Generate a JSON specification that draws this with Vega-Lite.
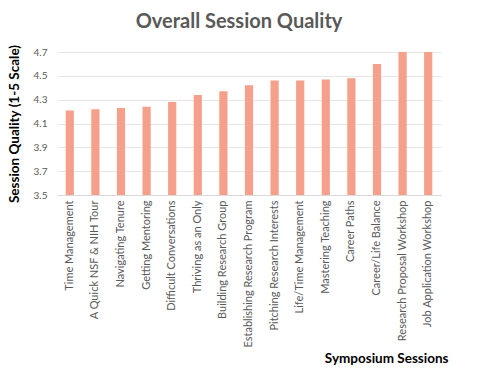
{
  "$schema": "https://vega.github.io/schema/vega-lite/v6.json",
  "width": 384,
  "height": 143,
  "autosize": {"type": "none"},
  "padding": {"left": 57, "top": 52, "right": 39, "bottom": 182},
  "background": "white",
  "title": {
    "text": "Overall Session Quality",
    "font": "Lato",
    "fontSize": 20,
    "fontWeight": "bold",
    "color": "#595959",
    "anchor": "middle",
    "dx": -10,
    "offset": 12
  },
  "data": {
    "values": [
      {"session": "Time Management", "score": 4.21},
      {"session": "A Quick NSF & NIH Tour", "score": 4.22},
      {"session": "Navigating Tenure", "score": 4.23},
      {"session": "Getting Mentoring", "score": 4.24},
      {"session": "Difficult Conversations", "score": 4.28},
      {"session": "Thriving as an Only", "score": 4.34},
      {"session": "Building Research Group", "score": 4.37},
      {"session": "Establishing Research Program", "score": 4.42},
      {"session": "Pitching Research Interests", "score": 4.46},
      {"session": "Life/Time Management", "score": 4.46},
      {"session": "Mastering Teaching", "score": 4.47},
      {"session": "Career Paths", "score": 4.48},
      {"session": "Career/Life Balance", "score": 4.6},
      {"session": "Research Proposal Workshop", "score": 4.7},
      {"session": "Job Application Workshop", "score": 4.7}
    ]
  },
  "mark": {"type": "bar", "color": "#F4A08A", "clip": true},
  "encoding": {
    "x": {
      "field": "session",
      "type": "nominal",
      "sort": null,
      "scale": {"paddingInner": 0.68, "paddingOuter": 0.34},
      "axis": {
        "title": "Symposium Sessions",
        "titleFont": "Lato",
        "titleFontSize": 13.5,
        "titleFontWeight": "bold",
        "titleColor": "#000000",
        "titleAnchor": "end",
        "titleAlign": "right",
        "titleX": 391,
        "titleY": 156,
        "labelAngle": -90,
        "labelFont": "Lato",
        "labelFontSize": 11,
        "labelColor": "#595959",
        "labelPadding": 5,
        "ticks": false,
        "domainColor": "#d9d9d9",
        "labelLimit": 200
      }
    },
    "y": {
      "field": "score",
      "type": "quantitative",
      "scale": {"domain": [3.5, 4.7], "nice": false, "zero": false},
      "axis": {
        "title": "Session Quality (1-5 Scale)",
        "titleFont": "Lato",
        "titleFontSize": 13.5,
        "titleFontWeight": "bold",
        "titleColor": "#000000",
        "titlePadding": 12,
        "values": [3.5, 3.7, 3.9, 4.1, 4.3, 4.5, 4.7],
        "format": ".1f",
        "labelFont": "Lato",
        "labelFontSize": 10,
        "labelColor": "#595959",
        "labelPadding": 10,
        "ticks": false,
        "domain": false,
        "gridColor": "#e6e6e6"
      }
    }
  },
  "config": {"view": {"stroke": null}}
}
